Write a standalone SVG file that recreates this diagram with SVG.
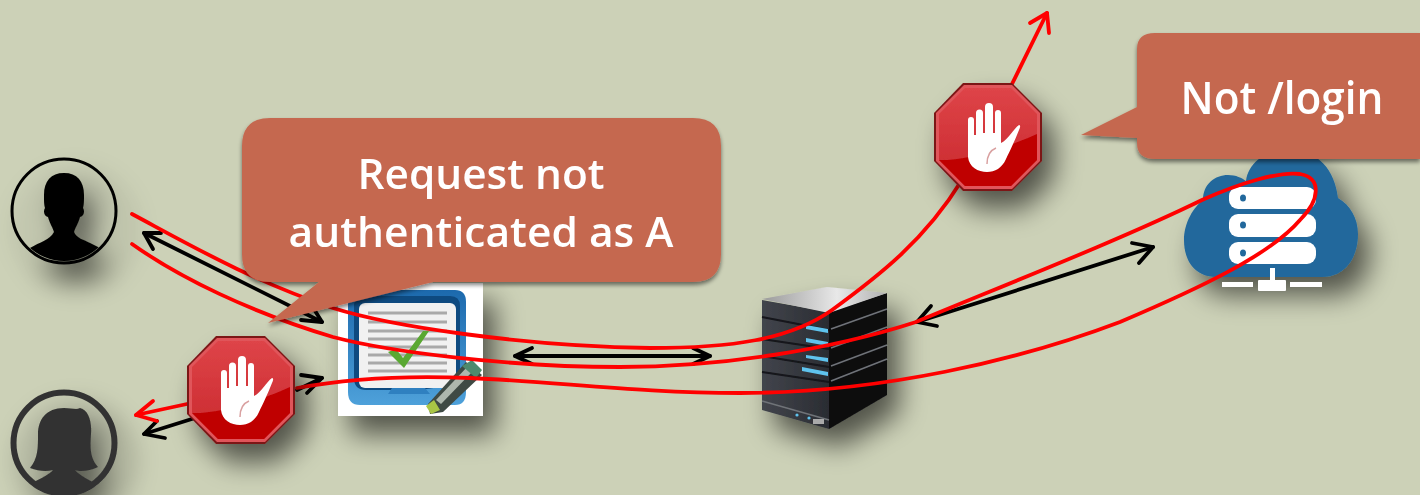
<svg xmlns="http://www.w3.org/2000/svg" width="1420" height="495" viewBox="0 0 1420 495">
<style>
.red{fill:none;stroke:#f00;stroke-width:3.8;stroke-linecap:round;stroke-linejoin:round}
.blk{fill:none;stroke:#000;stroke-width:3.8;stroke-linecap:round;stroke-linejoin:round}
.lbl{font-family:"Open Sans","Noto Sans",sans-serif;font-weight:600;fill:#fff;text-anchor:middle}
.call{fill:#c56850}
.rule{stroke:#a9a9a9;stroke-width:3}
.rack{fill:#fff}
.dot{fill:#22689c}
.slit{stroke:#15161a;stroke-width:2;fill:none}
.edge{stroke:#6f7378;stroke-width:1.6;fill:none}
.glow{fill:#5fc3ee}
</style>
<defs>
<filter id="sh" x="-60%" y="-60%" width="240%" height="240%"><feGaussianBlur in="SourceAlpha" stdDeviation="14"/><feOffset dx="12" dy="18"/><feComponentTransfer><feFuncA type="linear" slope="0.6"/></feComponentTransfer><feMerge><feMergeNode/><feMergeNode in="SourceGraphic"/></feMerge></filter>
<filter id="sh2" x="-10%" y="-10%" width="120%" height="125%"><feGaussianBlur in="SourceAlpha" stdDeviation="2"/><feOffset dx="0" dy="3"/><feComponentTransfer><feFuncA type="linear" slope="0.5"/></feComponentTransfer><feMerge><feMergeNode/><feMergeNode in="SourceGraphic"/></feMerge></filter>
<clipPath id="clipA"><circle cx="64" cy="210" r="51"/></clipPath>
<clipPath id="clipB"><circle cx="64" cy="443" r="50"/></clipPath>
<linearGradient id="top" x1="0" y1="0" x2="0" y2="1"><stop offset="0" stop-color="#de4448"/><stop offset="1" stop-color="#c9282e"/></linearGradient>
<linearGradient id="frame" x1="0" y1="0" x2="0" y2="1"><stop offset="0" stop-color="#1c69ad"/><stop offset="1" stop-color="#4ea1da"/></linearGradient>
<linearGradient id="sideA" x1="0" y1="0" x2="1" y2="0"><stop offset="0" stop-color="#42454c"/><stop offset="1" stop-color="#2a2c32"/></linearGradient>
<linearGradient id="topS" x1="0" y1="0" x2="1" y2="0"><stop offset="0" stop-color="#9a9a9a"/><stop offset="0.6" stop-color="#e8e8e8"/><stop offset="1" stop-color="#b0b0b0"/></linearGradient>
<g id="stopsign">
<polygon points="-25,-54 24,-54 54,-24 54,24 24,54 -25,54 -54,24 -54,-24" fill="#7c1418"/>
<polygon points="-24,-52 24,-52 52,-24 52,24 24,52 -24,52 -52,24 -52,-24" fill="#e0555a"/>
<polygon points="-23,-49 23,-49 49,-23 49,23 23,49 -23,49 -49,23 -49,-23" fill="url(#top)"/>
<path d="M-49,23 C-20,24 20,10 49,-3 V23 L23,49 H-23 Z" fill="#bf0000"/>
<path d="M-20,6 V-17 a3,3 0 0 1 6,0 V-2 H-12 V-24 a3.5,3.5 0 0 1 7,0 V-4 H-3 V-30 a4,4 0 0 1 8,0 V-4 H7 V-24 a3,3 0 0 1 6,0 V6 C20,3 26,-9 31,-12 C33,-12 32,-9 31,-7 C27,3 22,14 18,22 C14,31 7,35 -1,35 C-10,35 -19,30 -20,20 Z" fill="#fff"/>
<path d="M-1,27 C-1,18 3,13 8,11" fill="none" stroke="#d9a0a0" stroke-width="1.5"/>
</g>
</defs>
<rect width="1420" height="495" fill="#ccd1b7"/>

<g id="user-a" filter="url(#sh)">
<circle cx="64" cy="211" r="52" fill="#ccd1b7" fill-opacity="0.01" stroke="#000" stroke-width="3"/>
<path clip-path="url(#clipA)" d="M64,173 C77,173 84,181 84,195 C84,201 84,204 83,208 C85,211 84,216 80,217 C78,224 75,228 74,232 C76,238 84,240 90,243 L100,248 L90,266 H38 L30,248 C40,242 50,240 54,232 C53,228 50,224 48,217 C44,216 43,211 45,208 C44,204 44,201 44,195 C44,181 51,173 64,173 Z" fill="#000"/>
</g>
<g id="user-b" filter="url(#sh)">
<circle cx="64" cy="443" r="50.5" fill="#ccd1b7" fill-opacity="0.01" stroke="#333" stroke-width="6"/>
<path clip-path="url(#clipB)" d="M64,408 C72,408 76,410 80,408 C88,410 92,420 91,434 C90,448 90,458 98,467 C90,471 80,472 75,470 C78,474 85,478 96,484 L96,495 H30 V484 C42,478 50,474 53,470 C46,472 38,471 30,468 C38,458 38,448 38,434 C38,420 46,408 64,408 Z" fill="#333"/>
</g>
<g id="document">
<rect x="338" y="283" width="145" height="133" fill="#fff" filter="url(#sh)"/>
<path d="M360,290 H455 Q466,290 466,302 V392 Q466,405 455,405 H360 Q348,405 348,392 V302 Q348,290 360,290 Z" fill="url(#frame)"/>
<path d="M366,296 H450 Q460,296 460,306 V384 L420,390 H366 Q354,390 354,378 V306 Q354,296 366,296 Z" fill="#0e4a80"/>
<rect x="359" y="303" width="97" height="85" rx="6" fill="#f1f1f1"/>
<g class="rule">
<line x1="368" y1="313" x2="447" y2="313"/><line x1="368" y1="322" x2="447" y2="322"/><line x1="368" y1="331" x2="447" y2="331"/><line x1="368" y1="339" x2="447" y2="339"/><line x1="368" y1="347" x2="447" y2="347"/><line x1="368" y1="355" x2="447" y2="355"/><line x1="368" y1="363" x2="447" y2="363"/><line x1="368" y1="371" x2="447" y2="371"/>
</g>
<path d="M388,352 L396,349 L403,358 L423,331 L429,331 L404,368 Z" fill="#5aa832"/>
<path d="M392,388 H425 L430,394 H388 Z" fill="#2f80c0"/>
<path d="M428,404 L466,362 L482,375 L443,412 L430,414 Z" fill="#3f4a44"/>
<path d="M436,400 L468,366 L473,371 L441,404 Z" fill="#aeb7ad"/>
<path d="M462,366 L472,360 L482,370 L476,378 Z" fill="#4e8a6e"/>
<path d="M426,406 L434,400 L440,410 L431,414 Z" fill="#a9c545"/>
</g>

<g id="server" filter="url(#sh)">
<polygon points="762,300 829,312 829,429 762,410" fill="url(#sideA)"/>
<polygon points="829,312 887,293 887,395 829,429" fill="#0d0d10"/>
<polygon points="762,299 827,287 887,293 829,313" fill="url(#topS)"/>
<g class="slit">
<path d="M762,317 L829,330"/><path d="M762,339 L829,349"/><path d="M762,356 L829,367"/><path d="M762,372 L829,382"/>
</g>
<g class="edge">
<path d="M831,329 L887,309"/><path d="M831,348 L887,327"/><path d="M831,366 L887,345"/><path d="M831,381 L887,359"/>
<path d="M762,401 L829,420"/>
</g>
<polygon points="806,325 828,329 828,333 806,329" class="glow"/>
<polygon points="806,338 828,342 828,346 806,342" class="glow"/>
<polygon points="806,355 828,358 828,362 806,358" class="glow"/>
<polygon points="802,367 828,372 828,376 802,371" class="glow"/>
<circle cx="797" cy="415" r="1.6" class="glow"/><circle cx="809" cy="418" r="1.6" class="glow"/>
<rect x="813" y="419" width="11" height="5" fill="#aaa"/>
</g>

<g id="cloud">
<path filter="url(#sh)" d="M1216,277 C1196,277 1184,262 1184,240 C1184,222 1194,207 1203,200 C1203,184 1215,175 1228,175 C1236,175 1242,178 1246,181 C1248,165 1262,150 1290,150 C1318,150 1335,170 1338,198 C1350,205 1358,218 1358,234 C1358,258 1345,277 1322,277 Z" fill="#22689c"/>
<rect x="1229" y="187" width="87" height="22" rx="9" class="rack"/>
<rect x="1229" y="214" width="87" height="23" rx="9" class="rack"/>
<rect x="1229" y="242" width="87" height="22" rx="9" class="rack"/>
<ellipse cx="1243" cy="198" rx="3" ry="3.5" class="dot"/><ellipse cx="1243" cy="225" rx="3" ry="3.5" class="dot"/><ellipse cx="1243" cy="253" rx="3" ry="3.5" class="dot"/>
<rect x="1270" y="268" width="5" height="14" fill="#fff"/>
<rect x="1258" y="280" width="28" height="11" rx="1" fill="#fff"/>
<rect x="1222" y="282" width="31" height="5" fill="#fff"/>
<rect x="1290" y="282" width="32" height="5" fill="#fff"/>
</g>

<g id="connectors">
<g class="blk">
<path d="M144,233 L322,322"/><path d="M161,233 L144,233 L153,249"/><path d="M301,320 L322,322 L312,306"/>
<path d="M297,390 L322,378"/><path d="M301,375 L322,378 L307,393"/>
<path d="M195,418 L144,434"/><path d="M157,421 L144,434 L165,438"/>
<path d="M515,356 L710,356"/><path d="M532,348 L515,356 L532,364"/><path d="M693,348 L710,356 L693,364"/>
<path d="M917,322 L1153,247"/><path d="M931,306 L917,322 L937,326"/><path d="M1132,243 L1153,247 L1139,263"/>
</g>
<g>
<path class="red" d="M132,214 C190,245 250,280 333,308 C390,326 520,346 650,348 C730,348 790,340 832,310 C880,275 925,240 962,180"/>
<path class="red" d="M1012,84 L1047,13"/><path class="red" d="M1030,23 L1047,13 L1049,33"/>
<path class="red" d="M132,244 C180,278 250,312 333,337 C390,352 510,367 620,367 C720,367 830,350 916,322 C1000,287 1120,240 1202,200 C1240,183 1280,171 1300,174 C1322,178 1320,200 1300,220 C1270,255 1200,288 1120,322 C1020,360 880,393 740,393 C640,393 560,382 470,378 C400,375 340,380 297,388"/>
<path class="red" d="M187,404 L136,415"/><path class="red" d="M153,401 L136,415 L157,421"/>
</g>
</g>

<g id="stop-left" filter="url(#sh)"><use href="#stopsign" x="241" y="390"/></g>
<g id="stop-right" filter="url(#sh)"><use href="#stopsign" x="988" y="137"/></g>

<g id="callout-a" filter="url(#sh2)">
<path class="call" d="M270,118 H693 Q721,118 721,146 V254 Q721,282 693,282 H433 L268,323 L319,282 H270 Q242,282 242,254 V146 Q242,118 270,118 Z"/>
<text class="lbl" x="481" y="189" font-size="41" textLength="247" lengthAdjust="spacingAndGlyphs">Request not</text>
<text class="lbl" x="481" y="247" font-size="41" textLength="385" lengthAdjust="spacingAndGlyphs">authenticated as A</text>
</g>
<g id="callout-b" filter="url(#sh2)">
<path class="call" d="M1155,33 H1420 V159 H1155 Q1137,159 1137,143 V138 L1081,135 L1137,107 V49 Q1137,33 1155,33 Z"/>
<text class="lbl" x="1282" y="114" font-size="46" textLength="203" lengthAdjust="spacingAndGlyphs">Not /login</text>
</g>
</svg>
